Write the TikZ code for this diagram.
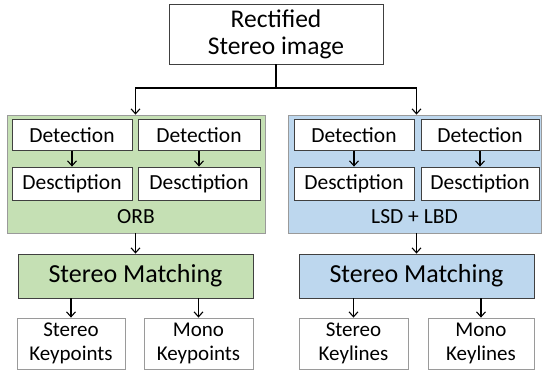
\documentclass[tikz,border=0pt]{standalone}
\usepackage{fontspec}
\setmainfont{Carlito}
\usetikzlibrary{arrows.meta}
\definecolor{orbgreen}{HTML}{C5E0B4}
\definecolor{lbdblue}{HTML}{BDD7EE}
\definecolor{darkline}{HTML}{404040}
\definecolor{lightline}{HTML}{9A9A9A}
\tikzset{
	arr/.style={line width=1.1pt, -{Straight Barb[length=5pt,width=9pt,line width=1.1pt]}},
	groupbox/.style={draw=lightline, line width=0.8pt, inner sep=0pt},
	stepbox/.style={draw=darkline, fill=white, line width=0.8pt, inner sep=0pt, minimum height=31pt,
		font=\fontsize{21.5}{25}\selectfont},
	matchbox/.style={draw=darkline, line width=0.8pt, inner sep=0pt, minimum width=235pt, minimum height=44pt,
		font=\fontsize{26}{30}\selectfont},
	outbox/.style={draw=lightline, fill=white, line width=0.8pt, inner sep=0pt, minimum height=51pt, align=center,
		font=\fontsize{21}{24}\selectfont},
}
\begin{document}
\begin{tikzpicture}[x=1pt, y=-1pt]
			%%%%% START %%%%%
			\useasboundingbox (0,0) rectangle (542,370);
			
			\node[draw=darkline, line width=0.8pt, inner sep=0pt, minimum width=214pt, minimum height=60pt, align=center,
				font=\fontsize{25.5}{27}\selectfont] (src) at (276,34) {Rectified\\Stereo image};
			\coordinate (split) at (276,88);
			
			% ORB side
			\node[groupbox, fill=orbgreen, minimum width=258pt, minimum height=118pt] (orb) at (136,174) {};
			\node[font=\fontsize{21.5}{25}\selectfont] (orbtxt) at (136,217) {ORB};
			\node[stepbox, minimum width=120pt] (detA) at (72,135) {Detection};
			\node[stepbox, minimum width=122pt] (detB) at (199,135) {Detection};
			\node[stepbox, minimum width=120pt, minimum height=33pt] (desA) at (72,183.5) {Desctiption};
			\node[stepbox, minimum width=122pt, minimum height=33pt] (desB) at (199,183.5) {Desctiption};
			
			% LSD + LBD side
			\node[groupbox, fill=lbdblue, minimum width=253pt, minimum height=118pt] (lsd) at (414.5,174) {};
			\node[font=\fontsize{21.5}{25}\selectfont] (lsdtxt) at (414.5,217) {LSD + LBD};
			\node[stepbox, minimum width=120pt] (detC) at (354,135) {Detection};
			\node[stepbox, minimum width=118pt] (detD) at (480,135) {Detection};
			\node[stepbox, minimum width=120pt, minimum height=33pt] (desC) at (354,183.5) {Desctiption};
			\node[stepbox, minimum width=118pt, minimum height=33pt] (desD) at (480,183.5) {Desctiption};
			
			% matching
			\node[matchbox, fill=orbgreen] (matchL) at (135.5,276) {Stereo Matching};
			\node[matchbox, fill=lbdblue] (matchR) at (416.5,276) {Stereo Matching};
			
			% outputs
			\node[outbox, minimum width=108pt] (kpS) at (71,343.5) {Stereo\\Keypoints};
			\node[outbox, minimum width=109pt] (kpM) at (198.5,343.5) {Mono\\Keypoints};
			\node[outbox, minimum width=109pt] (klS) at (353.5,343.5) {Stereo\\Keylines};
			\node[outbox, minimum width=106pt] (klM) at (481,343.5) {Mono\\Keylines};
			
			\draw[line width=1.1pt] (src.south) -- (split);
			\draw[arr] (split) -| (matchL.center |- orb.north);
			\draw[arr] (split) -| (matchR.center |- lsd.north);
			
			\draw[arr] (detA) -- (desA);
			\draw[arr] (detB) -- (desB);
			\draw[arr] (detC) -- (desC);
			\draw[arr] (detD) -- (desD);
			
			\draw[arr] (matchL.center |- orb.south) -- (matchL.north);
			\draw[arr] (matchR.center |- lsd.south) -- (matchR.north);
			
			\draw[arr] (kpS.north |- matchL.south) -- (kpS.north);
			\draw[arr] (kpM.north |- matchL.south) -- (kpM.north);
			\draw[arr] (klS.north |- matchR.south) -- (klS.north);
			\draw[arr] (klM.north |- matchR.south) -- (klM.north);
			
			%%%%% END %%%%%
\end{tikzpicture}
\end{document}
